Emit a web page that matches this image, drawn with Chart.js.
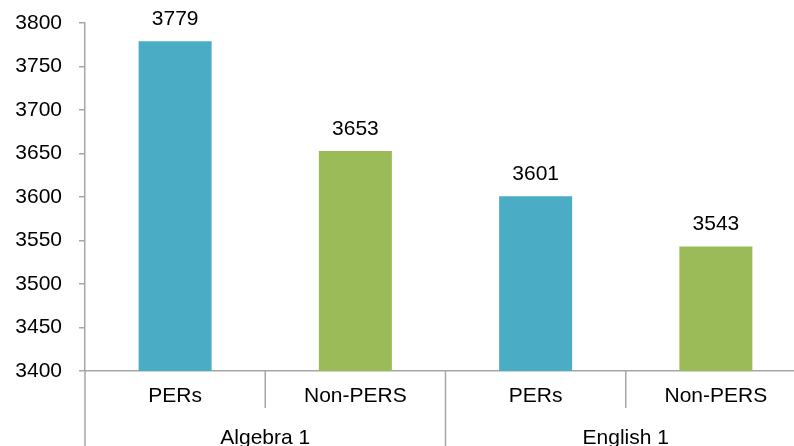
<!DOCTYPE html>
<html>
<head>
<meta charset="utf-8">
<script src="https://cdn.jsdelivr.net/npm/chart.js@4"></script>
<style>
  html, body { margin: 0; padding: 0; background: #fff; overflow: hidden; }
  #wrap { width: 806px; height: 446px; }
</style>
</head>
<body>
<div id="wrap"><canvas id="bar-chart"></canvas></div>
<script>
// chart data
var categories = ["PERs", "Non-PERS", "PERs", "Non-PERS"];
var groups = ["Algebra 1", "English 1"];
var scores = [3779, 3653, 3601, 3543];
var barColors = ["#4BACC6", "#9BBB59", "#4BACC6", "#9BBB59"];
var yTicks = [3400, 3450, 3500, 3550, 3600, 3650, 3700, 3750, 3800];

var axisGrey = "#a6a6a6";
var fontFamily = "'Liberation Sans', Arial, sans-serif";
var fontSize = 21;

// value labels above bars + the two-level category axis
var extras = {
  id: 'extras',
  afterDatasetsDraw: function (chart) {
    var ctx = chart.ctx;
    var meta = chart.getDatasetMeta(0);
    ctx.save();
    ctx.font = fontSize + "px " + fontFamily;
    ctx.fillStyle = "#000";
    ctx.textAlign = "center";
    ctx.textBaseline = "middle";
    meta.data.forEach(function (bar, i) {
      ctx.fillText(scores[i], bar.x, bar.y - 22);
    });
    ctx.restore();
  },
  afterDraw: function (chart) {
    var ctx = chart.ctx;
    var x = chart.scales.x;
    var area = chart.chartArea;
    var h = chart.height;
    ctx.save();
    ctx.strokeStyle = axisGrey;
    ctx.lineWidth = 1.5;
    // left edge continues down through label rows
    ctx.beginPath();
    ctx.moveTo(area.left, area.bottom);
    ctx.lineTo(area.left, h);
    ctx.stroke();
    for (var i = 1; i < categories.length; i++) {
      var bx = (x.getPixelForValue(i - 1) + x.getPixelForValue(i)) / 2;
      var isGroupEdge = (i % 2 === 0);
      ctx.beginPath();
      ctx.moveTo(bx, area.bottom);
      ctx.lineTo(bx, isGroupEdge ? h : area.bottom + 37);
      ctx.stroke();
    }
    ctx.font = fontSize + "px " + fontFamily;
    ctx.fillStyle = "#000";
    ctx.textAlign = "center";
    ctx.textBaseline = "middle";
    groups.forEach(function (g, j) {
      var gx = (x.getPixelForValue(j * 2) + x.getPixelForValue(j * 2 + 1)) / 2;
      ctx.fillText(g, gx, area.bottom + 67);
    });
    ctx.restore();
  }
};

new Chart(document.getElementById("bar-chart"), {
  type: 'bar',
  data: {
    labels: categories,
    datasets: [
      {
        data: scores,
        backgroundColor: barColors,
        categoryPercentage: 1,
        barPercentage: 0.405
      }
    ]
  },
  options: {
    responsive: true,
    maintainAspectRatio: false,
    animation: false,
    layout: { padding: { top: 23, left: 0, right: 0, bottom: 0 } },
    plugins: {
      legend: { display: false },
      tooltip: { enabled: false }
    },
    scales: {
      x: {
        grid: { display: false, drawTicks: false },
        border: { color: axisGrey, width: 1.5 },
        ticks: {
          color: "#000",
          font: { family: fontFamily, size: fontSize },
          padding: 13,
          maxRotation: 0
        },
        afterFit: function (scale) { scale.height = 75; }
      },
      y: {
        min: 3400,
        max: 3800,
        afterBuildTicks: function (scale) {
          scale.ticks = yTicks.map(function (v) { return { value: v }; });
        },
        afterFit: function (scale) {
          scale.width = 85;
          scale.paddingTop = 0;
          scale.paddingBottom = 0;
        },
        grid: {
          drawOnChartArea: false,
          color: axisGrey,
          lineWidth: 1.5,
          tickLength: 6
        },
        border: { color: axisGrey, width: 1.5 },
        ticks: {
          color: "#000",
          font: { family: fontFamily, size: fontSize },
          padding: 17,
          callback: function (v) { return String(v); }
        }
      }
    }
  },
  plugins: [extras]
});
</script>
</body>
</html>
